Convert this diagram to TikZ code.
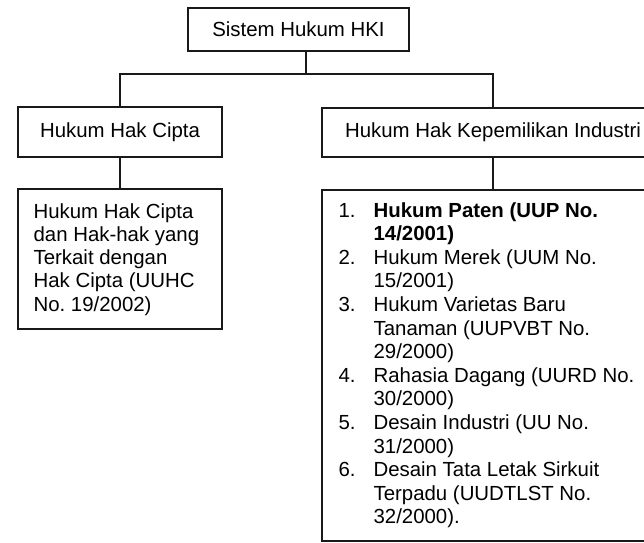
\documentclass[tikz,border=0pt]{standalone}
\usepackage{fontspec}
\setmainfont{Liberation Sans}
\frenchspacing
\begin{document}
\begin{tikzpicture}[x=1pt,y=-1pt,line width=1.2pt,
  box/.style={draw=black!90, rectangle, inner sep=0pt, font=\fontsize{20.4}{24}\selectfont},
  ln/.style={anchor=base west, inner sep=0pt, font=\fontsize{20.4}{24}\selectfont},
  conn/.style={draw=black!90, line width=1.2pt}]
\useasboundingbox (0,0) rectangle (644,542);
\node[box, minimum width=221pt, minimum height=43pt] (root) at (298.5,29.5) {Sistem Hukum HKI};
\node[box, minimum width=204pt, minimum height=50pt] (hc) at (120,132) {Hukum Hak Cipta};
\node[box, minimum width=342pt, minimum height=49pt] (hk) at (493,132.5) {Hukum Hak Kepemilikan Industri};
\node[box, minimum width=204pt, minimum height=140pt] (lc) at (120,259) {};
\node[box, minimum width=342pt, minimum height=351pt] (lk) at (493,365.5) {};
\coordinate (j) at (306,74);
\draw[conn] (root.south -| j) -- (j);
\draw[conn] (hc.north) |- (j) -| (hk.north);
\draw[conn] (hc.south) -- (lc.north);
\draw[conn] (hk.south) -- (lk.north);
% left list text
\foreach \t [count=\i from 0] in {Hukum Hak Cipta, dan Hak-hak yang, Terkait dengan, Hak Cipta (UUHC, No. 19/2002)}
  \node[ln] (lt\i) at (33,218+23.3*\i) {\t};
% right list numbers
\foreach \n/\k in {1/0,2/2,3/4,4/7,5/9,6/11}
  \node[ln] (num\n) at (338,217+23.6*\k) {\n.};
\node[ln, font=\fontsize{20.4}{24}\selectfont\bfseries] (r0) at (373,217) {Hukum Paten (UUP No.};
\node[ln, font=\fontsize{20.4}{24}\selectfont\bfseries] (r1) at (373,240.6) {14/2001)};
\foreach \t [count=\i from 2] in {Hukum Merek (UUM No., 15/2001), Hukum Varietas Baru, Tanaman (UUPVBT No., 29/2000), Rahasia Dagang (UURD No., 30/2000), Desain Industri (UU No., 31/2000), Desain Tata Letak Sirkuit, Terpadu (UUDTLST No., 32/2000).}
  \node[ln] (r\i) at (373,217+23.6*\i) {\t};
\end{tikzpicture}
\end{document}
